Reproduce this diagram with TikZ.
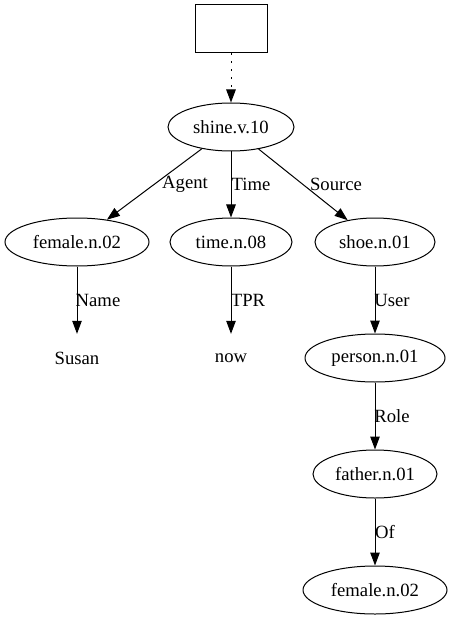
\documentclass[tikz,border=0pt]{standalone}
\usepackage{fontspec}
\setmainfont{Liberation Serif}
\usetikzlibrary{shapes.geometric,arrows.meta}
\begin{document}
\begin{tikzpicture}[x=1pt,y=-1pt,
  every node/.style={font=\fontsize{18.67}{22}\selectfont},
  ell/.style={draw,ellipse,line width=1pt,inner sep=0pt,minimum height=48pt},
  plain/.style={inner sep=0pt,minimum height=48pt,minimum width=40pt},
  edge/.style={line width=1pt,-{Triangle[length=13pt,width=9.5pt]}},
  lbl/.style={inner sep=0pt}]
\useasboundingbox (0,0) rectangle (451,620);
\node[draw,line width=1pt,minimum width=72pt,minimum height=48pt,inner sep=0pt] (top) at (231,29) {};
\node[ell,minimum width=126pt] (shine) at (231,127) {shine.v.10};
\node[ell,minimum width=144pt] (fem1) at (77,242) {female.n.02};
\node[ell,minimum width=122pt] (time) at (231,242) {time.n.08};
\node[ell,minimum width=120pt] (shoe) at (375,242) {shoe.n.01};
\node[plain] (susan) at (77,358) {Susan};
\node[plain] (now) at (231,358) {now};
\node[ell,minimum width=140pt] (person) at (375,358) {person.n.01};
\node[ell,minimum width=124pt] (father) at (375,474) {father.n.01};
\node[ell,minimum width=144pt] (fem2) at (375,590) {female.n.02};
\draw[edge,dash pattern=on 1.3pt off 6.7pt] (top) -- (shine);
\draw[edge] (shine) -- (fem1);
\draw[edge] (shine) -- (time);
\draw[edge] (shine) -- (shoe);
\draw[edge] (fem1) -- (susan);
\draw[edge] (time) -- (now);
\draw[edge] (shoe) -- (person);
\draw[edge] (person) -- (father);
\draw[edge] (father) -- (fem2);
\node[lbl] (lAgent) at (185,184) {Agent};
\node[lbl] (lTime) at (251,184) {Time};
\node[lbl] (lSource) at (336,184) {Source};
\node[lbl] (lName) at (98,300) {Name};
\node[lbl] (lTPR) at (248,300) {TPR};
\node[lbl] (lUser) at (392,300) {User};
\node[lbl] (lRole) at (392,416) {Role};
\node[lbl] (lOf) at (385,532) {Of};
\end{tikzpicture}
\end{document}
